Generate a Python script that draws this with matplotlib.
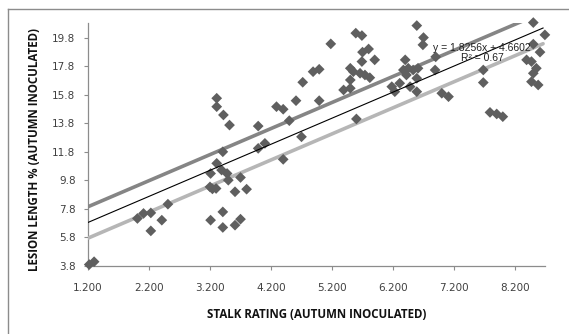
import matplotlib
matplotlib.use("Agg")
import matplotlib.pyplot as plt
from matplotlib.lines import Line2D
import numpy as np

# ---- data ----
stalk_rating = [1.22, 1.30, 2.01, 2.11, 2.23, 2.23, 2.41, 2.51, 3.21, 3.41, 3.41, 3.61, 3.70,
                3.20, 3.30, 3.24, 3.61, 3.80, 3.50, 3.70, 3.21, 3.39, 3.48, 3.31, 3.41,
                3.99, 4.10, 4.40, 4.70, 3.31, 3.31, 3.42, 3.52, 3.99, 4.29, 4.40, 4.50,
                4.61, 4.72, 4.89, 4.99, 4.99, 5.18, 5.59, 5.69, 5.80, 5.70, 5.69, 5.90,
                5.50, 5.55, 5.66, 5.74, 5.82, 5.50, 5.39, 5.50, 5.60, 6.40, 6.37, 6.45,
                6.53, 6.61, 6.42, 6.59, 6.31, 6.18, 6.23, 6.59, 6.48, 6.59, 6.70, 6.69,
                6.90, 6.89, 7.00, 7.11, 7.68, 7.68, 7.79, 7.90, 8.00, 8.50, 8.69, 8.50,
                8.61, 8.39, 8.47, 8.55, 8.50, 8.47, 8.58]
lesion_length = [3.90, 4.10, 7.13, 7.48, 7.52, 6.26, 7.01, 8.13, 7.01, 7.59, 6.50, 6.66, 7.08,
                 9.34, 9.23, 9.20, 9.00, 9.18, 9.81, 10.00, 10.28, 10.52, 10.28, 10.99, 11.80,
                 12.04, 12.39, 11.27, 12.85, 15.55, 14.96, 14.38, 13.67, 13.60, 14.96, 14.78, 13.98,
                 15.38, 16.67, 17.41, 17.58, 15.38, 19.36, 20.11, 19.94, 19.00, 18.78, 18.12, 18.24,
                 17.65, 17.41, 17.30, 17.18, 16.99, 16.83, 16.13, 16.25, 14.10, 18.24, 17.53, 17.65,
                 17.53, 17.65, 17.18, 16.95, 16.60, 16.36, 16.01, 16.01, 16.36, 20.64, 19.80, 19.29,
                 18.45, 17.53, 15.90, 15.66, 17.53, 16.65, 14.56, 14.45, 14.26, 20.85, 19.99, 19.34,
                 18.78, 18.24, 18.12, 17.65, 17.30, 16.71, 16.48]

# trend lines: (slope, intercept, x start, x end)
fit_slope = 1.8256
fit_intercept = 4.6602
band_offset = 1.1
upper_x_range = [1.2, 8.39]
fit_x_range = [1.2, 8.66]
lower_x_range = [1.2, 8.66]

x_ticks = [1.2, 2.2, 3.2, 4.2, 5.2, 6.2, 7.2, 8.2]
y_ticks = [3.8, 5.8, 7.8, 9.8, 11.8, 13.8, 15.8, 17.8, 19.8]

W, H = 569, 334
fig = plt.figure(figsize=(W / 100, H / 100), dpi=100)
ax = fig.add_axes([88 / W, 1 - 266 / H, (545 - 88) / W, (266 - 23.3) / H])

def line(xr, off):
    xs = np.array(xr)
    return xs, fit_slope * xs + fit_intercept + off

xs, ys = line(upper_x_range, band_offset)
ax.plot(xs, ys, color="#858585", lw=2.6, solid_capstyle="round", zorder=3)
xs, ys = line(lower_x_range, -band_offset)
ax.plot(xs, ys, color="#b6b6b6", lw=2.6, solid_capstyle="round", zorder=3)
ax.scatter(stalk_rating, lesion_length, marker="D", s=30, color="#5f5f5f",
           edgecolors="none", zorder=4, clip_on=False)
xs, ys = line(fit_x_range, 0)
ax.plot(xs, ys, color="black", lw=0.8, zorder=5)

ax.text(7.66, 18.7, "y = 1.8256x + 4.6602\nR² = 0.67", ha="center", va="center",
        fontsize=7.5, family="Liberation Sans", color="#222222", linespacing=0.95, zorder=6)

ax.set_xlim(1.2, 1.2 + (545 - 88) / 61)
ax.set_ylim(3.8, 20.8)
ax.set_xticks(x_ticks)
ax.set_xticklabels([f"{v:.3f}" for v in x_ticks])
ax.set_yticks(y_ticks)
ax.set_yticklabels([f"{v:.1f}" for v in y_ticks])

for s in ["top", "right"]:
    ax.spines[s].set_visible(False)
for s in ["left", "bottom"]:
    ax.spines[s].set_color("#8c8c8c")
    ax.spines[s].set_linewidth(0.9)
ax.tick_params(axis="both", direction="out", length=3, width=0.8, color="#8c8c8c",
               labelsize=7.5, labelcolor="#404040")
ax.tick_params(axis="x", pad=9)
ax.tick_params(axis="y", pad=6)

ax.set_xlabel("STALK RATING (AUTUMN INOCULATED)", fontsize=8.3, fontweight="bold",
              family="Open Sans", color="#111111", labelpad=11)
ax.set_ylabel("LESION LENGTH % (AUTUMN INOCULATED)", fontsize=8.3, fontweight="bold",
              family="Open Sans", color="#111111")
ax.yaxis.set_label_coords(-0.102, 0.478)

# outer chart border (top and left visible)
fig.add_artist(Line2D([8 / W, 1.0], [1 - 9 / H, 1 - 9 / H], color="#8c8c8c", lw=1.0,
                      transform=fig.transFigure))
fig.add_artist(Line2D([8 / W, 8 / W], [0.0, 1 - 9 / H], color="#8c8c8c", lw=1.0,
                      transform=fig.transFigure))

fig.savefig("out.png", dpi=100)
